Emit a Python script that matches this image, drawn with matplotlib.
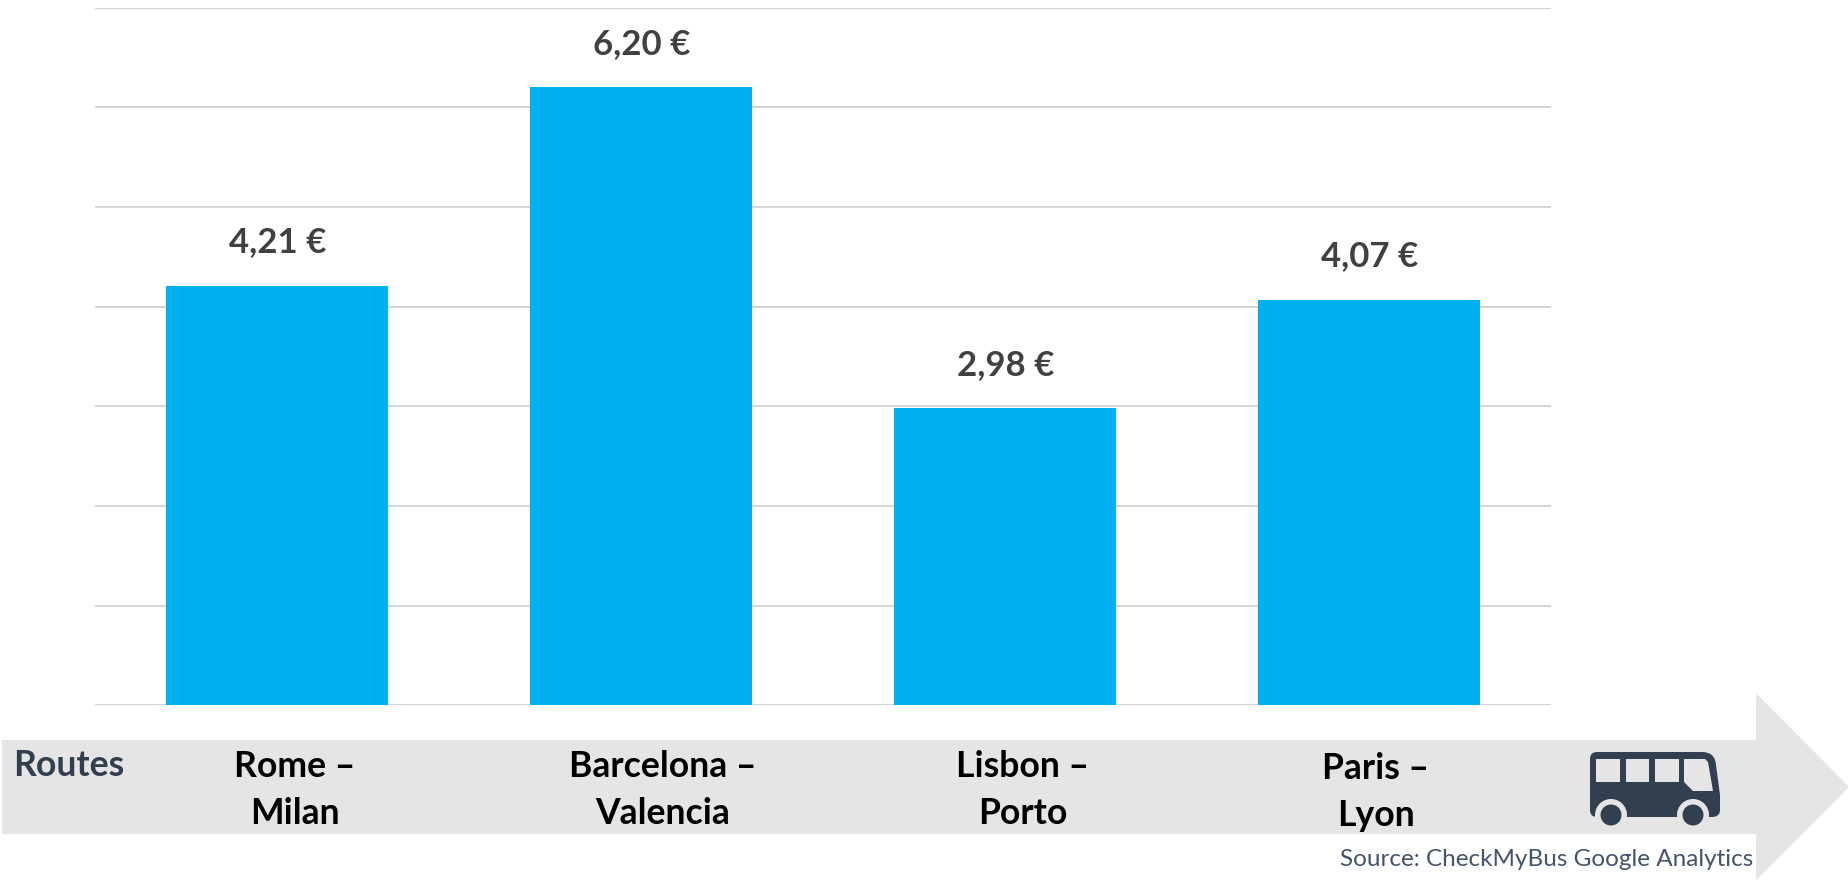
import matplotlib
matplotlib.use('Agg')
import matplotlib.pyplot as plt
from matplotlib.patches import Circle, PathPatch, Polygon, Rectangle
from matplotlib.path import Path
import numpy as np

plt.rcParams['font.family'] = ['Lato', 'DejaVu Sans']

# values
routes = ['Rome –\nMilan', 'Barcelona –\nValencia', 'Lisbon –\nPorto', 'Paris –\nLyon']
prices = [4.21, 6.20, 2.98, 4.07]
price_labels = ['4,21 €', '6,20 €', '2,98 €', '4,07 €']

W, H = 1849, 880
fig = plt.figure(figsize=(W / 100, H / 100), dpi=100)

# background layer in pixel coordinates for the arrow and the bus icon
bg = fig.add_axes([0, 0, 1, 1], zorder=0)
bg.set_xlim(0, W)
bg.set_ylim(H, 0)
bg.axis('off')

arrow_color = '#E5E5E5'
icon_color = '#323F4F'
bg.add_patch(Polygon([(2, 740), (1756, 740), (1756, 693), (1849, 787), (1756, 880),
                      (1756, 834), (2, 834)], closed=True, fc=arrow_color, ec='none'))

# bus body with rounded corners
verts = [(1597, 752), (1702, 752), (1715, 752), (1716, 765), (1720, 795), (1720, 810),
         (1720, 817), (1712, 817), (1597, 817), (1590, 817), (1590, 810), (1590, 759),
         (1590, 752), (1597, 752)]
codes = [Path.MOVETO, Path.LINETO, Path.CURVE3, Path.CURVE3, Path.LINETO, Path.LINETO,
         Path.CURVE3, Path.CURVE3, Path.LINETO, Path.CURVE3, Path.CURVE3, Path.LINETO,
         Path.CURVE3, Path.CURVE3]
bg.add_patch(PathPatch(Path(verts, codes), fc=icon_color, ec='none'))
for x0, x1 in [(1596, 1620), (1626, 1649), (1655, 1679)]:
    bg.add_patch(Rectangle((x0, 759), x1 - x0, 23, fc=arrow_color, ec='none'))
bg.add_patch(Polygon([(1684, 759), (1705, 759), (1708, 762), (1713, 791), (1693, 791), (1684, 782)],
                     closed=True, fc=arrow_color, ec='none'))
for cx in [1611, 1693]:
    bg.add_patch(Circle((cx, 815), 16, fc=arrow_color, ec='none'))
    bg.add_patch(Circle((cx, 815), 10.5, fc=icon_color, ec='none'))

bg.text(13, 766, 'Routes', fontsize=25.6, fontweight='bold', color=icon_color, va='center', ha='left')
bg.text(1753, 859, 'Source: CheckMyBus Google Analytics', fontsize=17.5, color='#44546A',
        va='center', ha='right')

# main chart
ax = fig.add_axes([95 / W, 1 - 705.2 / H, 1456 / W, (705.2 - 7.5) / H], zorder=1)
ax.patch.set_alpha(0)
x = np.arange(len(routes))
bars = ax.bar(x, prices, width=0.612, color='#00B0F0', zorder=3)
ax.set_xlim(-0.5, 3.5)
ax.set_ylim(0, 7)
ax.set_yticks(range(8))
ax.yaxis.grid(True, color='#D3D3D3', linewidth=1.4, zorder=1)
ax.tick_params(left=False, bottom=False, labelleft=False, labelbottom=False)
for s in ax.spines.values():
    s.set_visible(False)

for i, b in enumerate(bars):
    ax.annotate(price_labels[i], (b.get_x() + b.get_width() / 2, prices[i]),
                xytext=(0.5, 31), textcoords='offset points', ha='center', va='center',
                fontsize=25, fontweight='bold', color='#404040')

# route names sit on the arrow band, a little off the bar centres
label_dx = [18, 22, 18, 7]
label_dy = [-45, -45, -45, -47]
for i, name in enumerate(routes):
    ax.annotate(name, (i, 0), xytext=(label_dx[i] * 0.72, label_dy[i] * 0.72), textcoords='offset points',
                ha='center', va='top', fontsize=25.6, fontweight='bold', color='black',
                linespacing=1.5, annotation_clip=False)

fig.savefig('out.png', dpi=100, facecolor='white')
